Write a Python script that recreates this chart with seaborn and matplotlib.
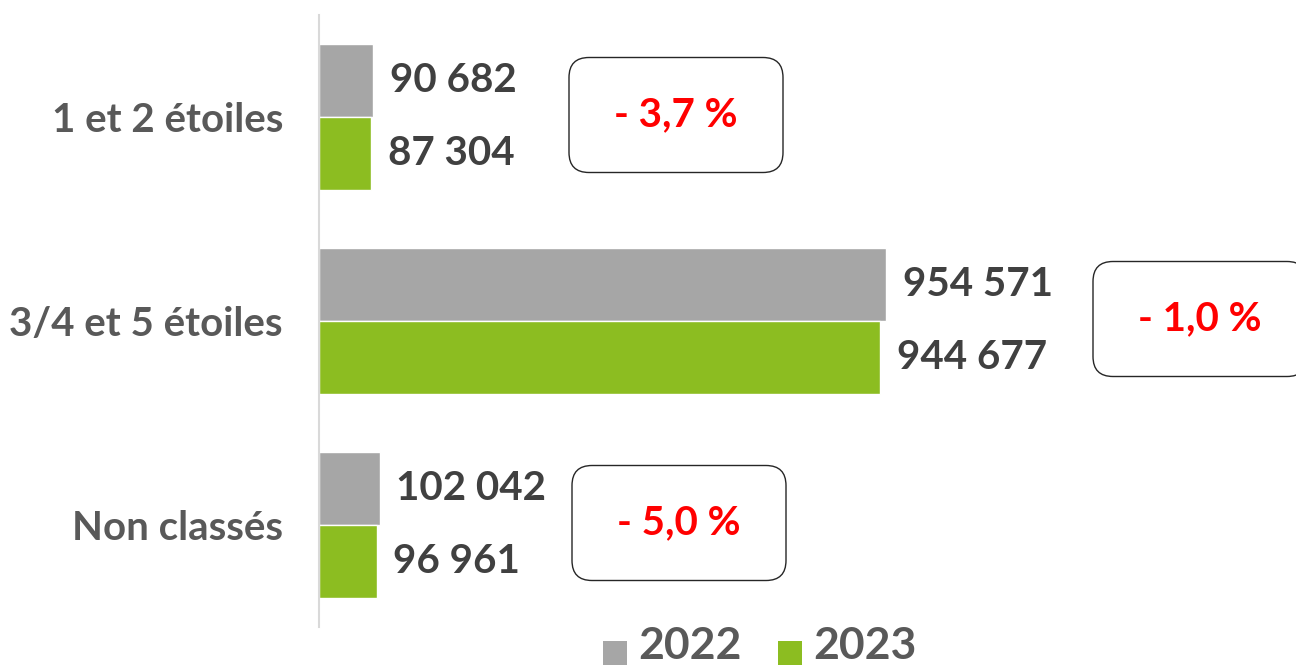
import matplotlib
matplotlib.use('Agg')
import matplotlib.pyplot as plt
from matplotlib.patches import FancyBboxPatch, Rectangle
import seaborn as sns
import pandas as pd

categories = ['1 et 2 étoiles', '3/4 et 5 étoiles', 'Non classés']
years = ['2022', '2023']
values_2022 = [90682, 954571, 102042]
values_2023 = [87304, 944677, 96961]
variations = ['- 3,7 %', '- 1,0 %', '- 5,0 %']

palette = {'2022': '#a6a6a6', '2023': '#8cbd21'}

df = pd.DataFrame({
    'categorie': categories * 2,
    'annee': [years[0]] * len(categories) + [years[1]] * len(categories),
    'valeur': values_2022 + values_2023,
})


def fmt(v):
    return f'{int(round(v)):,}'.replace(',', ' ')


W, H = 1296, 668
sns.set_style('white')
plt.rcParams['font.family'] = ['Lato', 'DejaVu Sans']

fig = plt.figure(figsize=(W / 100, H / 100), dpi=100)
ax = fig.add_axes([319 / W, 1 - 627 / H, 977 / W, 612 / H])
sns.barplot(data=df, y='categorie', x='valeur', hue='annee', order=categories,
            hue_order=years, palette=palette, orient='h', width=0.715, gap=0,
            saturation=1, legend=False, ax=ax)
ax.set_xlim(0, 1644800)
ax.set_ylim(len(categories) - 0.5, -0.5)

for cont in ax.containers:
    ax.bar_label(cont, labels=[fmt(b.get_width()) for b in cont], padding=12,
                 fontsize=29, fontweight='bold', color='#404040')

ax.set_xlabel('')
ax.set_ylabel('')
ax.set_xticks([])
ax.tick_params(axis='y', length=0, pad=26)
for lab in ax.get_yticklabels():
    lab.set_fontsize(29)
    lab.set_fontweight('bold')
    lab.set_color('#595959')
for side in ['top', 'right', 'bottom']:
    ax.spines[side].set_visible(False)
ax.spines['left'].set_color('#d9d9d9')
ax.spines['left'].set_linewidth(1.5)

# overlay in pixel units for the variation boxes and legend
ov = fig.add_axes([0, 0, 1, 1], zorder=5)
ov.set_xlim(0, W)
ov.set_ylim(0, H)
ov.axis('off')
ov.patch.set_alpha(0)

box_x = [676, 1200, 679]
box_w, box_h = 214, 115
for i, txt in enumerate(variations):
    yc = ax.transData.transform((0, i))[1] + 2
    ov.add_patch(FancyBboxPatch((box_x[i] - box_w / 2, yc - box_h / 2), box_w, box_h,
                                boxstyle='round,pad=0,rounding_size=20',
                                facecolor='white', edgecolor='#262626', linewidth=1.0))
    ov.text(box_x[i], yc, txt, ha='center', va='center', fontsize=29,
            fontweight='bold', color='#ff0000')

legend_x = [603, 778]
for x0, yr in zip(legend_x, years):
    ov.add_patch(Rectangle((x0, 3), 24, 24, facecolor=palette[yr], edgecolor='none'))
    ov.text(x0 + 35, 9, yr, ha='left', va='baseline', fontsize=32,
            fontweight='bold', color='#595959')

fig.savefig('out.png', dpi=100)
